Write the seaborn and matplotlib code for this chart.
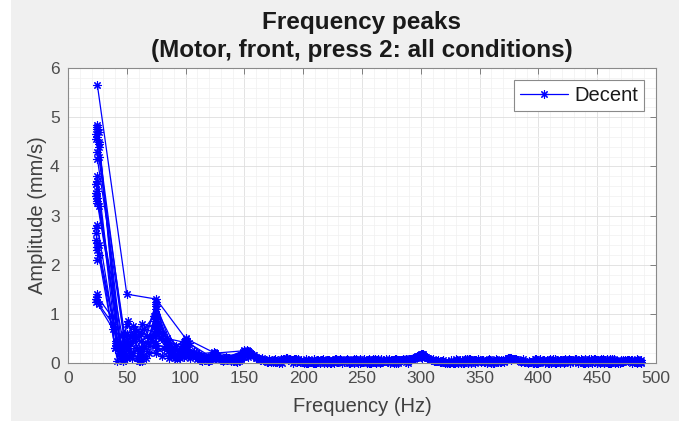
import matplotlib
matplotlib.use("Agg")
import matplotlib.pyplot as plt
from matplotlib.lines import Line2D
from matplotlib.patches import Rectangle
from matplotlib.ticker import MultipleLocator
import seaborn as sns
import pandas as pd

# ---- data: frequency peaks (Hz) and amplitudes (mm/s) per condition ----
freq_s01 = [25, 50, 75, 100, 125, 150, 162, 176, 189, 203, 216, 230, 244, 257, 271, 285, 299, 312, 326, 340, 353, 367, 376, 390, 404, 418, 431, 445, 459, 472, 486]
amp_s01 = [5.65, 1.40, 1.30, 0.50, 0.20, 0.25, 0.09, 0.03, 0.08, 0.01, 0.06, 0.02, 0.07, 0.00, 0.05, 0.08, 0.17, 0.04, 0.07, 0.01, 0.06, 0.03, 0.10, 0.02, 0.07, 0.00, 0.05, 0.08, 0.01, 0.06, 0.03]
freq_s02 = [24, 25, 45, 50, 62, 75, 87, 100, 112, 125, 137, 152, 165, 178, 186, 199, 213, 227, 240, 254, 268, 281, 295, 302, 316, 330, 343, 357, 371, 379, 393, 407, 420, 434, 448, 461, 475, 484]
amp_s02 = [4.55, 4.80, 0.15, 0.80, 0.30, 1.20, 0.40, 0.35, 0.15, 0.18, 0.10, 0.27, 0.11, 0.04, 0.09, 0.02, 0.06, 0.08, 0.01, 0.05, 0.07, 0.00, 0.10, 0.18, 0.03, 0.08, 0.01, 0.06, 0.04, 0.09, 0.02, 0.07, 0.04, 0.00, 0.08, 0.03, 0.06, 0.01]
freq_s03 = [24, 26, 47, 50, 63, 75, 88, 100, 113, 124, 138, 154, 160, 173, 184, 196, 209, 222, 235, 248, 262, 275, 289, 297, 306, 319, 333, 347, 360, 374, 382, 396, 410, 423, 437, 450, 464, 478, 487]
amp_s03 = [4.65, 4.40, 0.05, 0.60, 0.10, 1.00, 0.30, 0.45, 0.12, 0.20, 0.08, 0.22, 0.13, 0.02, 0.09, 0.05, 0.00, 0.07, 0.03, 0.08, 0.01, 0.06, 0.04, 0.15, 0.10, 0.02, 0.07, 0.04, 0.00, 0.09, 0.06, 0.01, 0.08, 0.03, 0.06, 0.00, 0.09, 0.04, 0.01]
freq_s04 = [25, 26, 44, 55, 61, 74, 87, 99, 111, 123, 140, 151, 158, 170, 182, 194, 207, 220, 233, 246, 259, 272, 286, 300, 309, 322, 336, 349, 362, 373, 386, 399, 412, 425, 439, 452, 466, 480]
amp_s04 = [4.75, 4.50, 0.35, 0.75, 0.05, 0.85, 0.20, 0.30, 0.10, 0.15, 0.06, 0.20, 0.16, 0.05, 0.01, 0.08, 0.03, 0.07, 0.00, 0.05, 0.09, 0.02, 0.06, 0.19, 0.07, 0.01, 0.05, 0.08, 0.02, 0.07, 0.04, 0.00, 0.08, 0.05, 0.01, 0.07, 0.03, 0.06]
freq_s05 = [25, 26, 48, 55, 62, 76, 86, 101, 115, 127, 145, 156, 167, 180, 192, 205, 218, 231, 243, 256, 269, 283, 293, 304, 314, 328, 341, 355, 368, 377, 391, 405, 416, 429, 443, 456, 470, 483]
amp_s05 = [4.30, 4.20, 0.60, 0.20, 0.45, 0.65, 0.25, 0.20, 0.08, 0.12, 0.05, 0.18, 0.07, 0.02, 0.09, 0.04, 0.00, 0.06, 0.08, 0.01, 0.05, 0.07, 0.10, 0.13, 0.04, 0.00, 0.08, 0.03, 0.06, 0.11, 0.01, 0.07, 0.02, 0.05, 0.09, 0.00, 0.06, 0.02]
freq_s06 = [24, 25, 43, 50, 64, 75, 90, 100, 118, 130, 148, 161, 174, 187, 201, 214, 228, 241, 255, 266, 279, 292, 299, 311, 324, 338, 351, 365, 378, 389, 402, 415, 428, 441, 455, 468, 481]
amp_s06 = [3.65, 3.80, 0.25, 0.45, 0.15, 0.95, 0.15, 0.25, 0.10, 0.06, 0.15, 0.10, 0.03, 0.07, 0.00, 0.05, 0.08, 0.02, 0.06, 0.09, 0.01, 0.07, 0.16, 0.05, 0.01, 0.08, 0.03, 0.06, 0.09, 0.02, 0.05, 0.00, 0.07, 0.04, 0.08, 0.01, 0.05]
freq_s07 = [24, 25, 46, 52, 62, 74, 84, 97, 109, 121, 134, 149, 163, 177, 191, 204, 217, 229, 242, 253, 265, 278, 290, 301, 308, 321, 334, 346, 358, 371, 384, 397, 409, 422, 435, 447, 460, 473, 485]
amp_s07 = [3.65, 3.50, 0.10, 0.30, 0.60, 0.55, 0.35, 0.15, 0.20, 0.06, 0.12, 0.22, 0.08, 0.05, 0.01, 0.07, 0.09, 0.02, 0.06, 0.04, 0.00, 0.08, 0.09, 0.17, 0.08, 0.03, 0.00, 0.06, 0.08, 0.02, 0.05, 0.09, 0.01, 0.06, 0.03, 0.08, 0.00, 0.05, 0.07]
freq_s08 = [25, 26, 47, 53, 66, 75, 92, 105, 120, 136, 153, 168, 181, 197, 211, 224, 238, 251, 264, 277, 291, 300, 317, 331, 344, 356, 370, 375, 388, 401, 414, 427, 440, 453, 467, 479]
amp_s08 = [3.35, 3.20, 0.05, 0.55, 0.10, 0.75, 0.12, 0.18, 0.05, 0.10, 0.25, 0.06, 0.09, 0.02, 0.05, 0.00, 0.07, 0.03, 0.08, 0.01, 0.06, 0.14, 0.02, 0.07, 0.04, 0.00, 0.06, 0.10, 0.03, 0.08, 0.01, 0.06, 0.02, 0.09, 0.04, 0.07]
freq_s09 = [24, 25, 41, 48, 60, 75, 82, 95, 108, 126, 141, 155, 171, 185, 200, 212, 226, 239, 252, 267, 280, 294, 303, 318, 332, 345, 359, 372, 381, 394, 408, 421, 433, 446, 458, 471, 484]
amp_s09 = [2.75, 2.80, 0.45, 0.20, 0.20, 0.40, 0.30, 0.10, 0.12, 0.08, 0.05, 0.20, 0.04, 0.10, 0.02, 0.07, 0.05, 0.00, 0.08, 0.03, 0.06, 0.09, 0.15, 0.05, 0.01, 0.07, 0.03, 0.06, 0.08, 0.02, 0.00, 0.07, 0.04, 0.01, 0.08, 0.03, 0.06]
freq_s10 = [24, 25, 44, 50, 65, 76, 89, 102, 116, 132, 150, 164, 179, 193, 206, 219, 232, 247, 260, 273, 287, 298, 310, 323, 337, 350, 363, 376, 392, 406, 419, 432, 444, 457, 469, 482]
amp_s10 = [2.50, 2.35, 0.20, 0.10, 0.35, 0.30, 0.20, 0.15, 0.06, 0.05, 0.18, 0.07, 0.01, 0.09, 0.05, 0.02, 0.07, 0.00, 0.06, 0.08, 0.03, 0.13, 0.08, 0.02, 0.00, 0.07, 0.04, 0.08, 0.05, 0.01, 0.06, 0.09, 0.02, 0.06, 0.00, 0.04]
freq_s11 = [25, 26, 42, 51, 63, 75, 85, 98, 110, 122, 139, 152, 166, 183, 195, 208, 221, 236, 249, 261, 274, 288, 296, 305, 320, 335, 348, 361, 374, 385, 398, 411, 424, 436, 449, 462, 476, 487]
amp_s11 = [2.30, 2.20, 0.05, 0.85, 0.05, 0.60, 0.25, 0.30, 0.08, 0.15, 0.04, 0.24, 0.06, 0.09, 0.03, 0.00, 0.07, 0.05, 0.02, 0.08, 0.01, 0.06, 0.12, 0.11, 0.02, 0.07, 0.05, 0.00, 0.10, 0.03, 0.08, 0.01, 0.04, 0.09, 0.06, 0.00, 0.07, 0.03]
freq_s12 = [24, 25, 37, 40, 50, 62, 75, 80, 93, 104, 119, 133, 147, 157, 172, 188, 202, 215, 229, 245, 258, 270, 284, 300, 313, 327, 339, 352, 366, 377, 387, 400, 413, 426, 438, 451, 465, 477, 486]
amp_s12 = [1.30, 1.35, 0.95, 0.30, 0.40, 0.25, 0.20, 0.15, 0.08, 0.10, 0.04, 0.06, 0.10, 0.16, 0.05, 0.09, 0.01, 0.06, 0.03, 0.08, 0.00, 0.05, 0.07, 0.16, 0.04, 0.00, 0.08, 0.05, 0.02, 0.07, 0.09, 0.01, 0.05, 0.08, 0.02, 0.06, 0.00, 0.07, 0.04]
freq_s13 = [24, 38, 48, 60, 74, 86, 99, 114, 128, 143, 153, 169, 184, 198, 210, 225, 237, 250, 263, 276, 289, 301, 315, 329, 342, 354, 369, 380, 395, 409, 417, 431, 442, 454, 467, 480]
amp_s13 = [1.25, 0.70, 0.10, 0.05, 0.35, 0.10, 0.12, 0.05, 0.08, 0.04, 0.12, 0.03, 0.08, 0.06, 0.00, 0.05, 0.09, 0.02, 0.07, 0.04, 0.01, 0.11, 0.06, 0.01, 0.08, 0.03, 0.05, 0.09, 0.00, 0.06, 0.03, 0.08, 0.01, 0.07, 0.04, 0.00]
freq_s14 = [25, 26, 50, 55, 68, 75, 94, 107, 125, 146, 155, 175, 190, 209, 223, 242, 261, 279, 297, 311, 332, 352, 373, 393, 414, 435, 456, 474, 485]
amp_s14 = [4.60, 4.45, 0.10, 0.50, 0.40, 1.10, 0.20, 0.22, 0.10, 0.06, 0.21, 0.07, 0.04, 0.09, 0.00, 0.06, 0.02, 0.08, 0.13, 0.05, 0.00, 0.07, 0.06, 0.02, 0.08, 0.04, 0.00, 0.06, 0.02]
freq_s15 = [24, 25, 46, 52, 58, 75, 83, 96, 112, 127, 150, 170, 188, 205, 226, 245, 266, 286, 302, 322, 343, 364, 378, 398, 419, 440, 461, 480]
amp_s15 = [3.45, 3.30, 0.55, 0.25, 0.65, 0.80, 0.45, 0.18, 0.07, 0.15, 0.12, 0.02, 0.08, 0.05, 0.01, 0.07, 0.03, 0.06, 0.16, 0.00, 0.07, 0.04, 0.09, 0.01, 0.06, 0.08, 0.00, 0.05]
freq_s16 = [25, 26, 40, 52, 70, 75, 91, 103, 122, 140, 152, 176, 199, 222, 248, 270, 299, 325, 350, 375, 400, 425, 450, 475, 486]
amp_s16 = [2.10, 2.40, 0.30, 0.15, 0.50, 0.90, 0.10, 0.40, 0.12, 0.05, 0.17, 0.08, 0.02, 0.06, 0.00, 0.09, 0.17, 0.01, 0.05, 0.09, 0.03, 0.07, 0.00, 0.06, 0.02]
freq_s17 = [25, 26, 43, 57, 67, 75, 81, 97, 111, 124, 139, 151, 171, 193, 214, 236, 257, 279, 300, 321, 343, 364, 376, 397, 418, 440, 461, 483]
amp_s17 = [4.85, 4.70, 0.20, 0.70, 0.55, 1.25, 0.60, 0.28, 0.18, 0.22, 0.07, 0.23, 0.09, 0.04, 0.01, 0.07, 0.03, 0.08, 0.16, 0.00, 0.06, 0.09, 0.11, 0.02, 0.07, 0.00, 0.08, 0.04]
freq_s18 = [25, 41, 54, 63, 75, 79, 92, 100, 118, 131, 150, 163, 186, 207, 231, 254, 277, 298, 317, 339, 362, 377, 399, 422, 445, 468, 487]
amp_s18 = [3.70, 0.40, 0.10, 0.80, 0.70, 0.50, 0.35, 0.48, 0.10, 0.07, 0.26, 0.06, 0.10, 0.02, 0.08, 0.00, 0.06, 0.15, 0.03, 0.08, 0.01, 0.09, 0.05, 0.00, 0.07, 0.03, 0.06]
freq_s19 = [24, 25, 44, 56, 69, 75, 88, 98, 113, 126, 144, 154, 178, 202, 219, 243, 268, 290, 300, 324, 347, 368, 380, 403, 427, 448, 472, 484]
amp_s19 = [2.65, 2.45, 0.25, 0.60, 0.20, 0.85, 0.15, 0.38, 0.06, 0.17, 0.03, 0.19, 0.02, 0.08, 0.05, 0.00, 0.07, 0.09, 0.13, 0.01, 0.06, 0.03, 0.08, 0.05, 0.00, 0.07, 0.02, 0.08]
freq_s20 = [25, 26, 38, 47, 59, 72, 75, 86, 101, 116, 125, 149, 160, 182, 204, 228, 251, 274, 297, 303, 328, 353, 374, 395, 421, 447, 470, 486]
amp_s20 = [1.40, 1.20, 0.80, 0.35, 0.10, 0.45, 0.65, 0.30, 0.22, 0.09, 0.20, 0.13, 0.11, 0.06, 0.01, 0.08, 0.03, 0.05, 0.12, 0.14, 0.02, 0.07, 0.10, 0.00, 0.06, 0.09, 0.03, 0.05]
freq_s21 = [25, 49, 60, 73, 75, 84, 99, 109, 124, 135, 153, 167, 189, 211, 233, 256, 281, 301, 319, 346, 370, 376, 401, 423, 452, 476, 485]
amp_s21 = [4.15, 0.30, 0.55, 0.95, 1.15, 0.50, 0.42, 0.14, 0.19, 0.06, 0.25, 0.07, 0.09, 0.00, 0.05, 0.08, 0.02, 0.18, 0.06, 0.01, 0.07, 0.10, 0.03, 0.08, 0.00, 0.05, 0.07]
freq_s22 = [24, 25, 47, 53, 65, 75, 90, 100, 120, 126, 147, 152, 174, 196, 220, 244, 265, 287, 299, 315, 336, 359, 375, 392, 416, 438, 463, 481]
amp_s22 = [3.40, 3.25, 0.08, 0.40, 0.70, 0.60, 0.25, 0.33, 0.07, 0.14, 0.08, 0.21, 0.04, 0.09, 0.01, 0.06, 0.03, 0.08, 0.16, 0.05, 0.00, 0.07, 0.09, 0.02, 0.06, 0.00, 0.08, 0.03]

series_freqs = [freq_s01, freq_s02, freq_s03, freq_s04, freq_s05, freq_s06, freq_s07, freq_s08,
                freq_s09, freq_s10, freq_s11, freq_s12, freq_s13, freq_s14, freq_s15, freq_s16,
                freq_s17, freq_s18, freq_s19, freq_s20, freq_s21, freq_s22]
series_amps = [amp_s01, amp_s02, amp_s03, amp_s04, amp_s05, amp_s06, amp_s07, amp_s08,
               amp_s09, amp_s10, amp_s11, amp_s12, amp_s13, amp_s14, amp_s15, amp_s16,
               amp_s17, amp_s18, amp_s19, amp_s20, amp_s21, amp_s22]

legend_label = "Decent"
title_text = "Frequency peaks\n(Motor, front, press 2: all conditions)"
x_label = "Frequency (Hz)"
y_label = "Amplitude (mm/s)"
x_ticks = [0, 50, 100, 150, 200, 250, 300, 350, 400, 450, 500]
y_ticks = [0, 1, 2, 3, 4, 5, 6]

rows = []
for i, (fs, am) in enumerate(zip(series_freqs, series_amps)):
    for order, (f, a) in enumerate(zip(fs, am, strict=True)):
        rows.append({"cond": i, "order": order, "freq": f, "amp": a})
df = pd.DataFrame(rows)

# ---- figure ----
sns.set_style("white")
plt.rcParams["font.family"] = ["Liberation Sans", "DejaVu Sans"]

W, H = 679, 421
fig = plt.figure(figsize=(W / 100, H / 100), dpi=100)
fig.patch.set_facecolor("#f0f0f0")
fig.patches.append(Rectangle((0, 0), 11 / W, 1, transform=fig.transFigure,
                             facecolor="white", edgecolor="none", zorder=-10))

ax = fig.add_axes([68 / W, 1 - 363 / H, (656 - 68) / W, (363 - 68) / H])
ax.set_facecolor("white")

star = (8, 2, 0)
sns.lineplot(data=df, x="freq", y="amp", units="cond", estimator=None, sort=False,
             color="#0000ff", linewidth=0.9, marker=star, markersize=6,
             markeredgecolor="#0000ff", markeredgewidth=0.8, ax=ax, legend=False,
             clip_on=False)

ax.set_xlim(0, 500)
ax.set_ylim(0, 6)
ax.set_xticks(x_ticks)
ax.set_yticks(y_ticks)
ax.xaxis.set_minor_locator(MultipleLocator(10))
ax.yaxis.set_minor_locator(MultipleLocator(0.2))
ax.grid(True, which="major", color="#dedede", linewidth=0.6)
ax.grid(True, which="minor", color="#f0f0f0", linewidth=0.5)
ax.set_axisbelow(True)

tick_col = "#4d4d4d"
ax.tick_params(axis="both", which="major", direction="in", length=4, width=0.6,
               color="#6e6e6e", labelsize=12.5, labelcolor=tick_col,
               top=True, right=True, pad=6)
ax.tick_params(axis="both", which="minor", length=0, top=True, right=True)
for s in ax.spines.values():
    s.set_color("#8a8a8a")
    s.set_linewidth(0.8)

ax.set_xlabel(x_label, fontsize=14.5, color="#404040", labelpad=8)
ax.set_ylabel(y_label, fontsize=14.5, color="#404040", labelpad=2)
ax.set_title(title_text, fontsize=17.5, fontweight="bold", color="#1a1a1a",
             linespacing=1.25, pad=8)

handle = Line2D([], [], color="#0000ff", linewidth=0.9, marker=star, markersize=6,
                markeredgecolor="#0000ff", markeredgewidth=0.8)
leg = ax.legend([handle], [legend_label], loc="upper right", fontsize=14.5,
                frameon=True, fancybox=False, framealpha=1, edgecolor="#8a8a8a",
                handlelength=2.4, handletextpad=0.3, borderpad=0.3,
                borderaxespad=0.6)
leg.get_frame().set_linewidth(0.8)
for t in leg.get_texts():
    t.set_color("#1a1a1a")

fig.savefig("out.png", dpi=100, facecolor=fig.get_facecolor())
